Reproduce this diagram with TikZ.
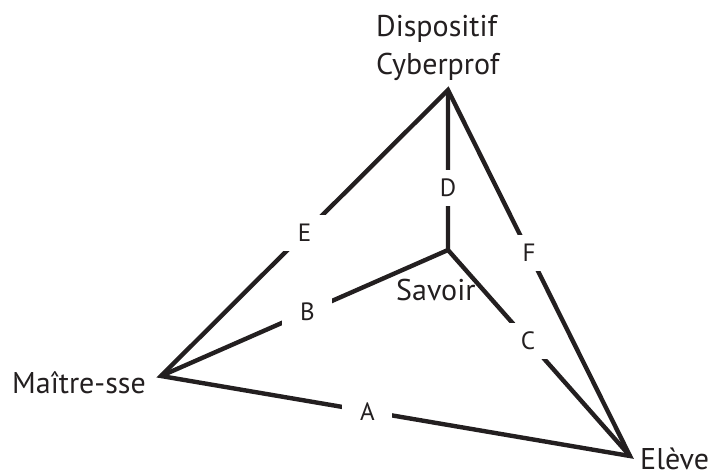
\documentclass[tikz,border=0pt]{standalone}
\usepackage{fontspec}
\setmainfont{PT Sans}
\definecolor{ink}{RGB}{35,31,32}
\begin{document}
\begin{tikzpicture}[x=1pt,y=-1pt,
  edge/.style={draw=ink,line width=4.4pt,line join=miter},
  elab/.style={fill=white,inner sep=0pt,minimum width=50pt,minimum height=36pt,font=\fontsize{25}{30}\selectfont,text=ink},
  vlabel/.style={inner sep=0pt,font=\fontsize{30}{38}\selectfont,text=ink}]
\useasboundingbox (0,0) rectangle (712,476);
\coordinate (T) at (448,90);
\coordinate (L) at (161,376);
\coordinate (R) at (630,456);
\coordinate (S) at (448,250);
\draw[edge] (L) -- (T) -- (R) -- cycle;
\draw[edge] (T) -- (S) -- (L);
\draw[edge] (S) -- (R);
\path (L) -- (R) node[elab,pos=0.44] (a) {A};
\path (L) -- (S) node[elab,pos=0.51] (b) {B};
\path (S) -- (R) node[elab,pos=0.44] (c) {C};
\path (T) -- (S) node[elab,pos=0.61] (d) {D};
\path (L) -- (T) node[elab,pos=0.50] (e) {E};
\path (T) -- (R) node[elab,pos=0.445] (f) {F};
\node[vlabel,anchor=base west,align=left] (disp) at (376,75) {Dispositif\\Cyberprof};
\node[vlabel,anchor=base west] (maitre) at (12,393) {Maître-sse};
\node[vlabel,anchor=base west] (savoir) at (396,300) {Savoir};
\node[vlabel,anchor=base west] (eleve) at (640,469) {Elève};
\end{tikzpicture}
\end{document}
